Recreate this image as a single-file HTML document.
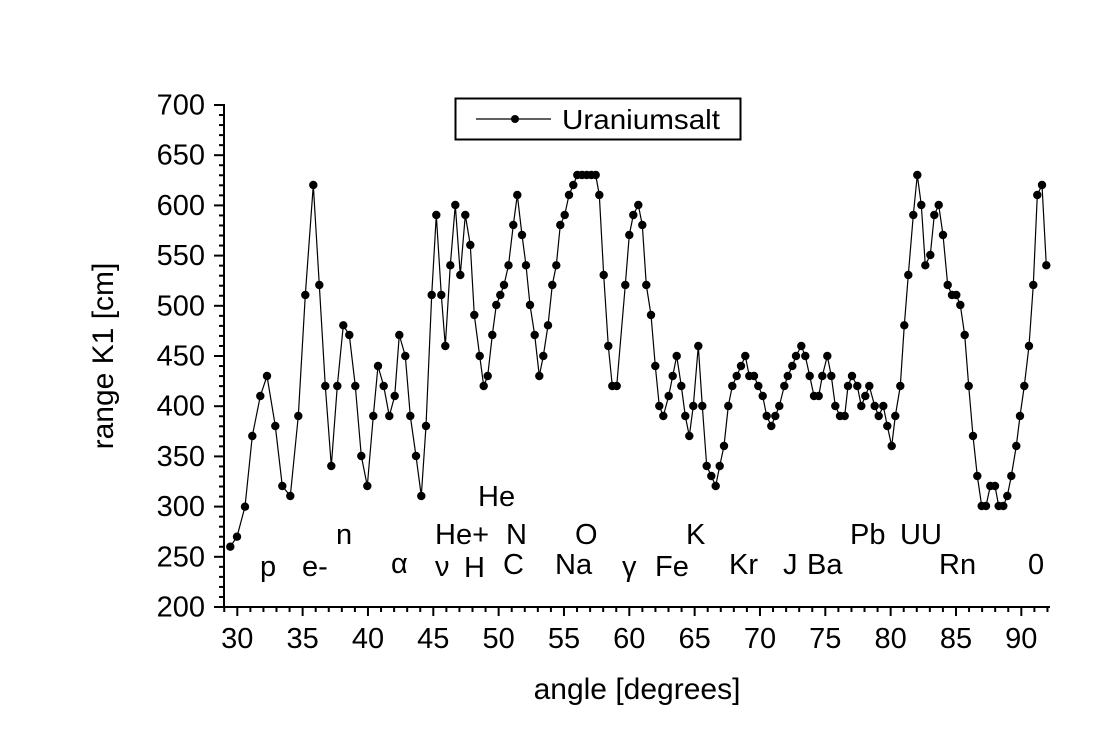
<!DOCTYPE html>
<html><head><meta charset="utf-8"><style>
html,body{margin:0;padding:0;background:#fff}
svg{display:block}
text{font-family:"Liberation Sans",Arial,sans-serif;fill:#000}
</style></head><body>
<svg width="1120" height="730" viewBox="0 0 1120 730" xmlns="http://www.w3.org/2000/svg">
<rect width="1120" height="730" fill="#fff"/>
<g id="axes" stroke="#000" stroke-width="2" fill="none">
<line x1="224" y1="104" x2="224" y2="607"/>
<line x1="223" y1="607" x2="1050" y2="607"/>
</g>
<g id="ticks" stroke="#000" stroke-width="2"></g>
<g id="labels" font-size="29"></g>
<polyline id="line" fill="none" stroke="#000" stroke-width="1.2" points=""/>
<g id="dots"></g>
<rect x="455.5" y="98.5" width="285" height="41" fill="#fff" stroke="#000" stroke-width="2"/>
<line x1="476" y1="119" x2="551" y2="119" stroke="#000" stroke-width="1.2"/>
<circle cx="515" cy="119" r="4" fill="#000"/>
<text x="562" y="129" font-size="28" textLength="158" lengthAdjust="spacingAndGlyphs">Uraniumsalt</text>
<g font-size="29">
<text x="260" y="576">p</text>
<text x="302" y="576">e-</text>
<text x="336" y="544">n</text>
<text x="391" y="573">α</text>
<text x="435" y="576">ν</text>
<text x="435" y="544">He+</text>
<text x="464" y="577">H</text>
<text x="478" y="506">He</text>
<text x="506" y="544">N</text>
<text x="503" y="574">C</text>
<text x="575" y="544">O</text>
<text x="555" y="574">Na</text>
<text x="622" y="576">γ</text>
<text x="655" y="576">Fe</text>
<text x="686" y="544">K</text>
<text x="729" y="574">Kr</text>
<text x="783" y="574">J</text>
<text x="807" y="574">Ba</text>
<text x="850" y="544">Pb</text>
<text x="900" y="544">UU</text>
<text x="939" y="574">Rn</text>
<text x="1028" y="574">0</text>
</g>
<text x="103" y="356" font-size="30" text-anchor="middle" transform="rotate(-90 103 356)" dy="10">range K1 [cm]</text>
<text x="637" y="699" font-size="30" text-anchor="middle">angle [degrees]</text>
<script>
var ns="http://www.w3.org/2000/svg";
var t=document.getElementById("ticks"),L=document.getElementById("labels");
function ln(a,b,c,d,w){var e=document.createElementNS(ns,"line");e.setAttribute("x1",a);e.setAttribute("y1",b);e.setAttribute("x2",c);e.setAttribute("y2",d);if(w)e.setAttribute("stroke-width",w);t.appendChild(e);}
function tx(x,y,s,anc){var e=document.createElementNS(ns,"text");e.setAttribute("x",x);e.setAttribute("y",y);e.setAttribute("text-anchor",anc);e.textContent=s;L.appendChild(e);}
for(var v=200;v<=700;v+=10){var y=607-(v-200)*1.004;var maj=v%50==0;ln(224,y,maj?214:219,y);if(maj)tx(205,y+9.5,v,"end");}
for(var d=29;d<=92;d++){var x=237.3+(d-30)*13.067;var maj=d%5==0;ln(x,607,x,maj?616:612);if(maj)tx(x,648,d,"middle");}
var P=[[230.3,546.7],[237,536.7],[245,506.7],[252.3,436],[260.3,396],[267,376],[275.3,426],[282.3,486],[290.3,496],[298.3,416],[305.3,295],[313.3,185],[319.3,285],[325.3,386],[331.3,466],[337.3,386],[343.3,325.3],[349.3,335],[355.3,386],[361.3,456],[367.3,486],[373.3,416],[378,366],[383.7,386],[389.3,416],[394.7,396],[399.3,335],[405.3,356],[410.3,416],[416,456],[421.3,496],[426,426],[431.7,295],[436.3,215],[441.3,295],[445.3,346],[450.3,265.3],[455.3,205],[460.3,275],[465.3,215],[470.3,245],[474.3,315],[479.7,356],[483.7,386],[487.7,376],[492.3,335],[496.3,305],[500.3,295],[504,285],[508.5,265.3],[513.3,225],[517.3,195],[522,235],[526,265.3],[530,305],[534.7,335],[539.3,376],[543.3,356],[548,325.3],[552.3,285],[556.3,265.3],[560.3,225],[564.7,215],[569,195],[573.3,185],[577.3,175],[582,175],[586.7,175],[591.3,175],[595.7,175],[599.3,195],[603.7,275],[608.3,346],[612.3,386],[616.7,386],[625.3,285],[629.3,235],[633.3,215],[638.3,205],[642.3,225],[646.3,285],[651,315],[655.3,366],[659.3,406],[663.3,416],[668.7,396],[672.7,376],[676.7,356],[681.3,386],[685.3,416],[689.3,436],[693.3,406],[698.3,346],[702.3,406],[706.7,466],[711.3,476],[715.7,486],[719.7,466],[724,446],[728.3,406],[732.3,386],[736.7,376],[741,366],[745.3,356],[749.3,376],[754,376],[758.3,386],[762.7,396],[766.7,416],[771.3,426],[775.3,416],[779.3,406],[784.3,386],[787.8,376],[792.3,366],[796,356],[801.3,346],[805.3,356],[809.7,376],[814,396],[818.7,396],[822.3,376],[827.3,356],[831.3,376],[835.3,406],[840,416],[844.7,416],[848,386],[852,376],[857.3,386],[861.3,406],[865.3,396],[869.3,386],[874.7,406],[878.7,416],[883.3,406],[887.3,426],[891.7,446],[895.3,416],[900.3,386],[904.3,325.3],[908.3,275],[913.3,215],[917.3,175],[921.3,205],[925.3,265.3],[930.3,255],[934.3,215],[938.7,205],[943,235],[947.7,285],[952,295],[956.3,295],[960.3,305],[964.7,335],[968.7,386],[973,436],[977.3,476],[981.7,506],[986,506],[990.3,486],[995,486],[998.7,506],[1003.3,506],[1007.3,496],[1011.3,476],[1016.3,446],[1020,416],[1024.3,386],[1029,346],[1033.3,285],[1037.3,195],[1042,185],[1046.3,265.3]];
document.getElementById("line").setAttribute("points",P.map(function(p){return p.join(",")}).join(" "));
var D=document.getElementById("dots");
P.forEach(function(p){var c=document.createElementNS(ns,"circle");c.setAttribute("cx",p[0]);c.setAttribute("cy",p[1]);c.setAttribute("r",4.2);c.setAttribute("fill","#000");D.appendChild(c);});
</script>
</svg>
</body></html>
